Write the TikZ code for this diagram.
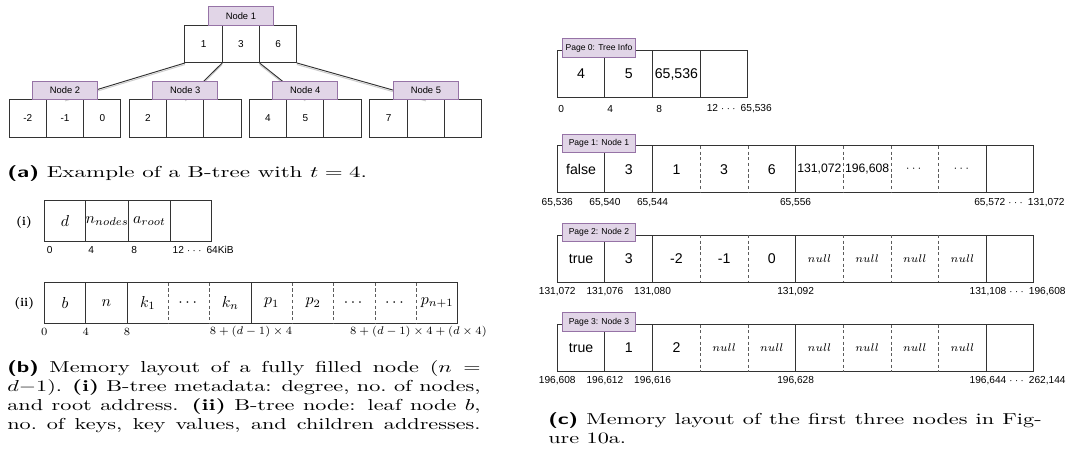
\documentclass[tikz,border=0pt]{standalone}
\usepackage{xcolor}
\usepackage{amsmath, amssymb}
\usepackage{graphicx}
\usepackage{fontspec}
\newfontfamily\arial{Liberation Sans}
\usepackage{tikz}
\usetikzlibrary{positioning}

\definecolor{lila}{HTML}{E1D5E7}
\definecolor{lilaborde}{HTML}{9673A6}
\definecolor{trazo}{HTML}{333333}

\tikzset{
  celdaA/.style={draw=trazo, line width=0.6pt, minimum width=23.5pt, minimum height=23.9pt, inner sep=0pt, outer sep=0pt, font=\arial\fontsize{6.3}{7}\selectfont},
  etiqueta/.style={draw=lilaborde, fill=lila, line width=0.6pt, minimum width=41pt, minimum height=11.5pt, inner sep=0pt, outer sep=0pt, font=\arial\fontsize{5.9}{7}\selectfont},
  etiquetaP/.style={etiqueta, minimum width=45.7pt, minimum height=11.6pt, font=\arial\fontsize{5.4}{6}\selectfont},
  celdaB/.style={draw=trazo, line width=0.6pt, minimum width=26.05pt, minimum height=25.5pt, inner sep=0pt, outer sep=0pt},
  celdaBv/.style={celdaB, draw=none},
  celdaC/.style={draw=trazo, line width=0.6pt, minimum width=30.03pt, minimum height=29.6pt, inner sep=0pt, outer sep=0pt, font=\arial\fontsize{8.9}{10}\selectfont},
  celdaCv/.style={celdaC, draw=none},
  celdaCp/.style={celdaCv, font=\arial\fontsize{7.7}{9}\selectfont},
  celdaCn/.style={celdaCv, font=\fontsize{7.2}{8}\selectfont},
  marco/.style={draw=trazo, line width=0.6pt},
  guion/.style={draw=trazo!80, line width=0.5pt, dash pattern=on 2pt off 1.6pt},
  marca/.style={inner sep=0pt, font=\arial\fontsize{6.4}{7}\selectfont},
  marcaM/.style={inner sep=0pt, font=\fontsize{7.2}{8}\selectfont},
  romano/.style={inner sep=0pt, font=\bfseries\fontsize{7.6}{8}\selectfont},
  leyenda/.style={inner sep=0pt, font=\normalsize},
  enlace/.style={draw=trazo, line width=0.6pt, preaction={draw=black!20, line width=0.6pt, transform canvas={yshift=-1pt}}},
}

\begin{document}
\begin{tikzpicture}[x=0.63pt, y=-0.63pt]
  \useasboundingbox (0,0) rectangle (1068,457);

  % (a) Nodo raiz
  \node[celdaA] (n1a) at (203.6,44) {1};
  \node[celdaA, right=0pt of n1a] (n1b) {3};
  \node[celdaA, right=0pt of n1b] (n1c) {6};

  % (a) Hijos
  \node[celdaA] (n2a) at (27.7,118.3) {-2};
  \node[celdaA, right=0pt of n2a] (n2b) {-1};
  \node[celdaA, right=0pt of n2b] (n2c) {0};
  \node[celdaA] (n3a) at (148,118.3) {2};
  \node[celdaA, right=0pt of n3a] (n3b) {};
  \node[celdaA, right=0pt of n3b] (n3c) {};
  \node[celdaA] (n4a) at (268,118.3) {4};
  \node[celdaA, right=0pt of n4a] (n4b) {5};
  \node[celdaA, right=0pt of n4b] (n4c) {};
  \node[celdaA] (n5a) at (388.6,118.3) {7};
  \node[celdaA, right=0pt of n5a] (n5b) {};
  \node[celdaA, right=0pt of n5b] (n5c) {};

  % (a) Conexiones
  \draw[enlace] (n1a.south west) -- (n2b.north);
  \draw[enlace] (n1b.south west) -- (n3b.north);
  \draw[enlace] (n1c.south west) -- (n4b.north);
  \draw[enlace] (n1c.south east) -- (n5b.north);

  % (a) Etiquetas
  \node[etiqueta, above=0pt of n1b] (e1) {Node 1};
  \node[etiqueta, above=0pt of n2b] (e2) {Node 2};
  \node[etiqueta, above=0pt of n3b] (e3) {Node 3};
  \node[etiqueta, above=0pt of n4b] (e4) {Node 4};
  \node[etiqueta, above=0pt of n5b] (e5) {Node 5};

  \node[leyenda, anchor=base west] (capA) at (7,177) {\scalebox{1.45}[1]{\textsf{\textbf{(a)}} Example of a B-tree with $t = 4$.}};

  % (b) Metadatos
  \node[romano] (li) at (24,222.3) {(i)};
  \node[celdaB] (ma) at (65,220.9) {$d$};
  \node[celdaB, right=0pt of ma] (mb) {$n_{nodes}$};
  \node[celdaB, right=0pt of mb] (mc) {$a_{root}$};
  \node[celdaB, right=0pt of mc] (md) {};
  \node[marca, anchor=west] (ta) at ([shift={(2.3,9)}]ma.south west) {0};
  \node[marca, anchor=west] (tb) at ([shift={(2.3,9)}]mb.south west) {4};
  \node[marca, anchor=west] (tc) at ([shift={(2.3,9)}]mc.south west) {8};
  \node[marca, anchor=west] (td) at ([shift={(2.3,9)}]md.south west) {12 $\cdots$ 64KiB};

  % (b) Nodo del arbol
  \node[romano] (lii) at (24.2,303.3) {(ii)};
  \node[celdaBv] (ba) at (65,303) {$b$};
  \node[celdaBv, right=0pt of ba] (bb) {$n$};
  \node[celdaBv, right=0pt of bb] (bc) {$k_1$};
  \node[celdaBv, right=0pt of bc] (bd) {$\cdots$};
  \node[celdaBv, right=0pt of bd] (be) {$k_n$};
  \node[celdaBv, right=0pt of be] (bf) {$p_1$};
  \node[celdaBv, right=0pt of bf] (bg) {$p_2$};
  \node[celdaBv, right=0pt of bg] (bh) {$\cdots$};
  \node[celdaBv, right=0pt of bh] (bi) {$\cdots$};
  \node[celdaBv, right=0pt of bi] (bj) {$p_{n+1}$};
  \draw[marco] (ba.north west) rectangle (bj.south east);
  \foreach \c in {b,c,f} \draw[marco] (b\c.north west) -- (b\c.south west);
  \foreach \c in {d,e,g,h,i,j} \draw[guion] (b\c.north west) -- (b\c.south west);
  \node[marcaM] (ua) at ([shift={(0,8.6)}]ba.south west) {$0$};
  \node[marcaM] (ub) at ([shift={(0,8.6)}]bb.south west) {$4$};
  \node[marcaM] (uc) at ([shift={(0,8.6)}]bc.south west) {$8$};
  \node[marcaM] (ud) at ([shift={(0,8.6)}]bf.south west) {$8+(d-1)\times 4$};
  \node[marcaM] (ue) at ([shift={(2,8.6)}]bj.south west) {$8+(d-1)\times 4+(d\times 4)$};

  \node[leyenda, anchor=north west] (capB) at (7,360) {\scalebox{1.4}[1]{\parbox[t]{213pt}{\parfillskip=0pt
    \textsf{\textbf{(b)}} Memory layout of a fully filled node ($n =$\linebreak$d{-}1$). \textbf{(i)} B-tree metadata: degree, no.\ of nodes,\linebreak
    and root address. \textbf{(ii)} B-tree node: leaf node~$b$,\linebreak
    no.\ of keys, key values, and children addresses.}}};

  % (c) Pagina 0
  \node[celdaC] (p0a) at (581.1,74) {4};
  \node[celdaC, right=0pt of p0a] (p0b) {5};
  \node[celdaC, right=0pt of p0b] (p0c) {65,536};
  \node[celdaC, right=0pt of p0c] (p0d) {};
  \node[marca, anchor=west] (q0a) at (558,108.5) {0};
  \node[marca, anchor=west] (q0b) at (607,108.5) {4};
  \node[marca, anchor=west] (q0c) at (656,108.5) {8};
  \node[marca, anchor=west] (q0d) at (706.5,108.5) {12 $\cdots$ 65,536};

  % (c) Pagina 1
  \node[celdaCv] (p1a) at (581.1,169.3) {false};
  \node[celdaCv, right=0pt of p1a] (p1b) {3};
  \node[celdaCv, right=0pt of p1b] (p1c) {1};
  \node[celdaCv, right=0pt of p1c] (p1d) {3};
  \node[celdaCv, right=0pt of p1d] (p1e) {6};
  \node[celdaCp, right=0pt of p1e] (p1f) {131,072};
  \node[celdaCp, right=0pt of p1f] (p1g) {196,608};
  \node[celdaCn, right=0pt of p1g] (p1h) {$\cdots$};
  \node[celdaCn, right=0pt of p1h] (p1i) {$\cdots$};
  \node[celdaCv, right=0pt of p1i] (p1j) {};

  % (c) Pagina 2
  \node[celdaCv] (p2a) at (581.1,258.5) {true};
  \node[celdaCv, right=0pt of p2a] (p2b) {3};
  \node[celdaCv, right=0pt of p2b] (p2c) {-2};
  \node[celdaCv, right=0pt of p2c] (p2d) {-1};
  \node[celdaCv, right=0pt of p2d] (p2e) {0};
  \node[celdaCn, right=0pt of p2e] (p2f) {$null$};
  \node[celdaCn, right=0pt of p2f] (p2g) {$null$};
  \node[celdaCn, right=0pt of p2g] (p2h) {$null$};
  \node[celdaCn, right=0pt of p2h] (p2i) {$null$};
  \node[celdaCv, right=0pt of p2i] (p2j) {};

  % (c) Pagina 3
  \node[celdaCv] (p3a) at (581.1,348) {true};
  \node[celdaCv, right=0pt of p3a] (p3b) {1};
  \node[celdaCv, right=0pt of p3b] (p3c) {2};
  \node[celdaCn, right=0pt of p3c] (p3d) {$null$};
  \node[celdaCn, right=0pt of p3d] (p3e) {$null$};
  \node[celdaCn, right=0pt of p3e] (p3f) {$null$};
  \node[celdaCn, right=0pt of p3f] (p3g) {$null$};
  \node[celdaCn, right=0pt of p3g] (p3h) {$null$};
  \node[celdaCn, right=0pt of p3h] (p3i) {$null$};
  \node[celdaCv, right=0pt of p3i] (p3j) {};

  % (c) Bordes de las paginas 1-3
  \foreach \f in {1,2,3}{
    \draw[marco] (p\f a.north west) rectangle (p\f j.south east);
    \foreach \c in {b,c,f,j} \draw[marco] (p\f\c.north west) -- (p\f\c.south west);
    \foreach \c in {d,e,g,h,i} \draw[guion] (p\f\c.north west) -- (p\f\c.south west);
  }

  % (c) Direcciones
  \node[marca] (q1a) at ([shift={(0,9.8)}]p1a.south west) {65,536};
  \node[marca] (q1b) at ([shift={(0,9.8)}]p1b.south west) {65,540};
  \node[marca] (q1c) at ([shift={(0,9.8)}]p1c.south west) {65,544};
  \node[marca] (q1d) at ([shift={(0,9.8)}]p1f.south west) {65,556};
  \node[marca, anchor=east] (q1e) at ([shift={(31,9.8)}]p1j.south east) {65,572 $\cdots$ 131,072};
  \node[marca] (q2a) at ([shift={(0,9.5)}]p2a.south west) {131,072};
  \node[marca] (q2b) at ([shift={(0,9.5)}]p2b.south west) {131,076};
  \node[marca] (q2c) at ([shift={(0,9.5)}]p2c.south west) {131,080};
  \node[marca] (q2d) at ([shift={(0,9.5)}]p2f.south west) {131,092};
  \node[marca, anchor=east] (q2e) at ([shift={(32,9.5)}]p2j.south east) {131,108 $\cdots$ 196,608};
  \node[marca] (q3a) at ([shift={(0,9.5)}]p3a.south west) {196,608};
  \node[marca] (q3b) at ([shift={(0,9.5)}]p3b.south west) {196,612};
  \node[marca] (q3c) at ([shift={(0,9.5)}]p3c.south west) {196,616};
  \node[marca] (q3d) at ([shift={(0,9.5)}]p3f.south west) {196,628};
  \node[marca, anchor=east] (q3e) at ([shift={(32,9.5)}]p3j.south east) {196,644 $\cdots$ 262,144};

  % (c) Etiquetas
  \node[etiquetaP, anchor=west] (f0) at ([shift={(5.4,-2.5)}]p0a.north west) {Page 0: Tree Info};
  \node[etiquetaP, anchor=west] (f1) at ([shift={(5.4,-2.5)}]p1a.north west) {Page 1: Node 1};
  \node[etiquetaP, anchor=west] (f2) at ([shift={(5.4,-2.5)}]p2a.north west) {Page 2: Node 2};
  \node[etiquetaP, anchor=west] (f3) at ([shift={(5.4,-2.5)}]p3a.north west) {Page 3: Node 3};

  \node[leyenda, anchor=north west] (capC) at (548,412) {\scalebox{1.4}[1]{\parbox[t]{222pt}{\textsf{\textbf{(c)}} Memory layout of the first three nodes in Fig-\linebreak ure 10a.}}};
\end{tikzpicture}
\end{document}
